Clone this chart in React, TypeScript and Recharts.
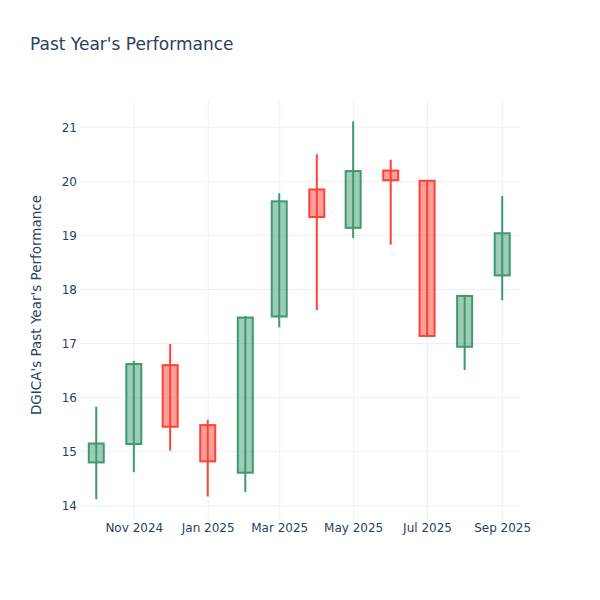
import { ComposedChart, Bar, XAxis, YAxis, CartesianGrid } from 'recharts'

const months = [
  '2024-10-01', '2024-11-01', '2024-12-01', '2025-01-01', '2025-02-01', '2025-03-01',
  '2025-04-01', '2025-05-01', '2025-06-01', '2025-07-01', '2025-08-01', '2025-09-01',
]
const opens = [14.8, 15.14, 16.6, 15.49, 14.61, 17.5, 19.85, 19.14, 20.2, 20.01, 16.94, 18.26]
const highs = [15.83, 16.68, 16.99, 15.59, 17.51, 19.78, 20.5, 21.11, 20.4, 20.02, 17.9, 19.73]
const lows = [14.12, 14.62, 15.02, 14.17, 14.25, 17.3, 17.62, 18.95, 18.83, 17.12, 16.51, 17.8]
const closes = [15.15, 16.62, 15.46, 14.82, 17.48, 19.63, 19.34, 20.19, 20.02, 17.14, 17.88, 19.04]

const tickDates = ['2024-11-01', '2025-01-01', '2025-03-01', '2025-05-01', '2025-07-01', '2025-09-01']
const tickLabels = ['Nov 2024', 'Jan 2025', 'Mar 2025', 'May 2025', 'Jul 2025', 'Sep 2025']
const yTicks = [14, 15, 16, 17, 18, 19, 20, 21]

const ts = (s: string) => Date.parse(s + 'T00:00:00Z')

const data = months.map((m, i) => ({
  t: ts(m),
  open: opens[i],
  high: highs[i],
  low: lows[i],
  close: closes[i],
}))

const xTicks = tickDates.map(ts)
const DAY = 86400000
const xDomain = [ts('2024-10-01') - 13.8 * DAY, ts('2025-09-01') + 14.3 * DAY]

const FONT = '"DejaVu Sans", Verdana, sans-serif'
const INK = '#2a3f5f'

function Candle(props: any) {
  const { x, y, width, height } = props
  const p = props.payload || props
  const top = Math.min(y, y + height)
  const h = Math.abs(height)
  const k = h / (p.high - p.low)
  const py = (v: number) => top + (p.high - v) * k
  const up = p.close >= p.open
  const stroke = up ? '#3D9970' : '#FF4136'
  const fill = up ? 'rgba(61,153,112,0.5)' : 'rgba(255,65,54,0.5)'
  const cx = x + width / 2
  const bTop = py(Math.max(p.open, p.close))
  const bBot = py(Math.min(p.open, p.close))
  return (
    <g>
      <line x1={cx} x2={cx} y1={top} y2={top + h} stroke={stroke} strokeWidth={2} />
      <rect x={x} y={bTop} width={width} height={bBot - bTop} fill={fill} stroke={stroke} strokeWidth={2} />
    </g>
  )
}

export default function App() {
  return (
    <div style={{ position: 'absolute', left: 0, top: 0, width: 600, height: 600, background: '#fff' }}>
      <ComposedChart
        width={600}
        height={600}
        data={data}
        margin={{ top: 100, right: 80, bottom: 50, left: 0 }}
        style={{ fontFamily: FONT }}
      >
        <CartesianGrid stroke="#ebf0f8" strokeWidth={1} syncWithTicks />
        <XAxis
          dataKey="t"
          type="number"
          domain={xDomain}
          allowDataOverflow
          ticks={xTicks}
          tickFormatter={(v: number) => tickLabels[xTicks.indexOf(v)] ?? ''}
          axisLine={false}
          tickLine={false}
          tickSize={0}
          tickMargin={3}
          height={30}
          tick={{ fill: INK, fontSize: 12, fontFamily: FONT }}
        />
        <YAxis
          type="number"
          domain={[13.735, 21.505]}
          allowDataOverflow
          ticks={yTicks}
          axisLine={false}
          tickLine={false}
          tickSize={0}
          tickMargin={3}
          width={80}
          tick={{ fill: INK, fontSize: 12, fontFamily: FONT }}
        />
        <Bar
          dataKey={(d: any) => [d.low, d.high]}
          barSize={15}
          shape={Candle}
          isAnimationActive={false}
        />
        <text x={30} y={50} fontSize={17} fill={INK} fontFamily={FONT}>
          Past Year's Performance
        </text>
        <text
          x={36}
          y={305}
          fontSize={13.5}
          fill={INK}
          fontFamily={FONT}
          textAnchor="middle"
          dominantBaseline="central"
          transform="rotate(-90 36 305)"
        >
          DGICA's Past Year's Performance
        </text>
      </ComposedChart>
    </div>
  )
}
